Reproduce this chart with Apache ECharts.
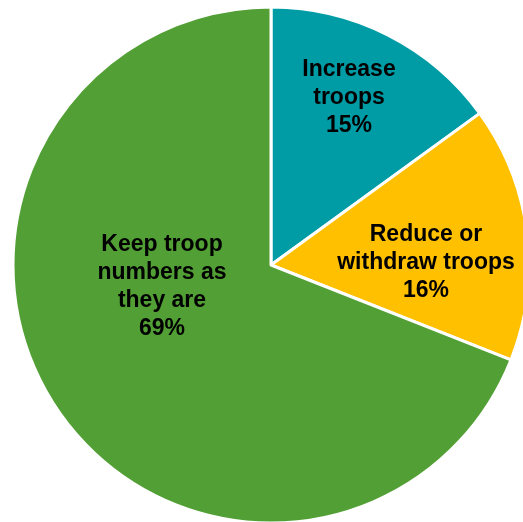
<!DOCTYPE html>
<html>
<head>
<meta charset="utf-8">
<script src="https://cdn.jsdelivr.net/npm/echarts@6/dist/echarts.min.js"></script>
<style>
  html, body { margin: 0; padding: 0; background: #fff; }
  #chart { width: 523px; height: 522px; }
</style>
</head>
<body>
<div id="chart"></div>
<script>
// Opinion on troop levels, share of respondents (%)
const categories = ['Increase\ntroops', 'Reduce or\nwithdraw troops', 'Keep troop\nnumbers as\nthey are'];
const shares = [15, 16, 69];
const colors = ['#009ca6', '#ffc000', '#52a035'];

// Where each slice's label block is centred (pixels)
const labelSpots = [[349, 98], [426, 263], [162, 287]];

const chart = echarts.init(document.getElementById('chart'), null, { renderer: 'canvas' });

chart.setOption({
  animation: false,
  series: [{
    type: 'pie',
    center: [271, 265],
    radius: [0, 258],
    startAngle: 90,
    clockwise: true,
    silent: true,
    data: categories.map((name, i) => ({
      name: name,
      value: shares[i],
      itemStyle: { color: colors[i] }
    })),
    itemStyle: { borderColor: '#ffffff', borderWidth: 3 },
    label: {
      show: true,
      position: 'inside',
      formatter: p => p.name + '\n' + p.value + '%',
      color: '#000',
      fontFamily: 'Liberation Sans, Arial, sans-serif',
      fontWeight: 'bold',
      fontSize: 23,
      lineHeight: 28,
      align: 'center'
    },
    labelLine: { show: false },
    labelLayout: params => ({
      x: labelSpots[params.dataIndex][0],
      y: labelSpots[params.dataIndex][1],
      align: 'center',
      verticalAlign: 'middle'
    })
  }]
});
</script>
</body>
</html>
